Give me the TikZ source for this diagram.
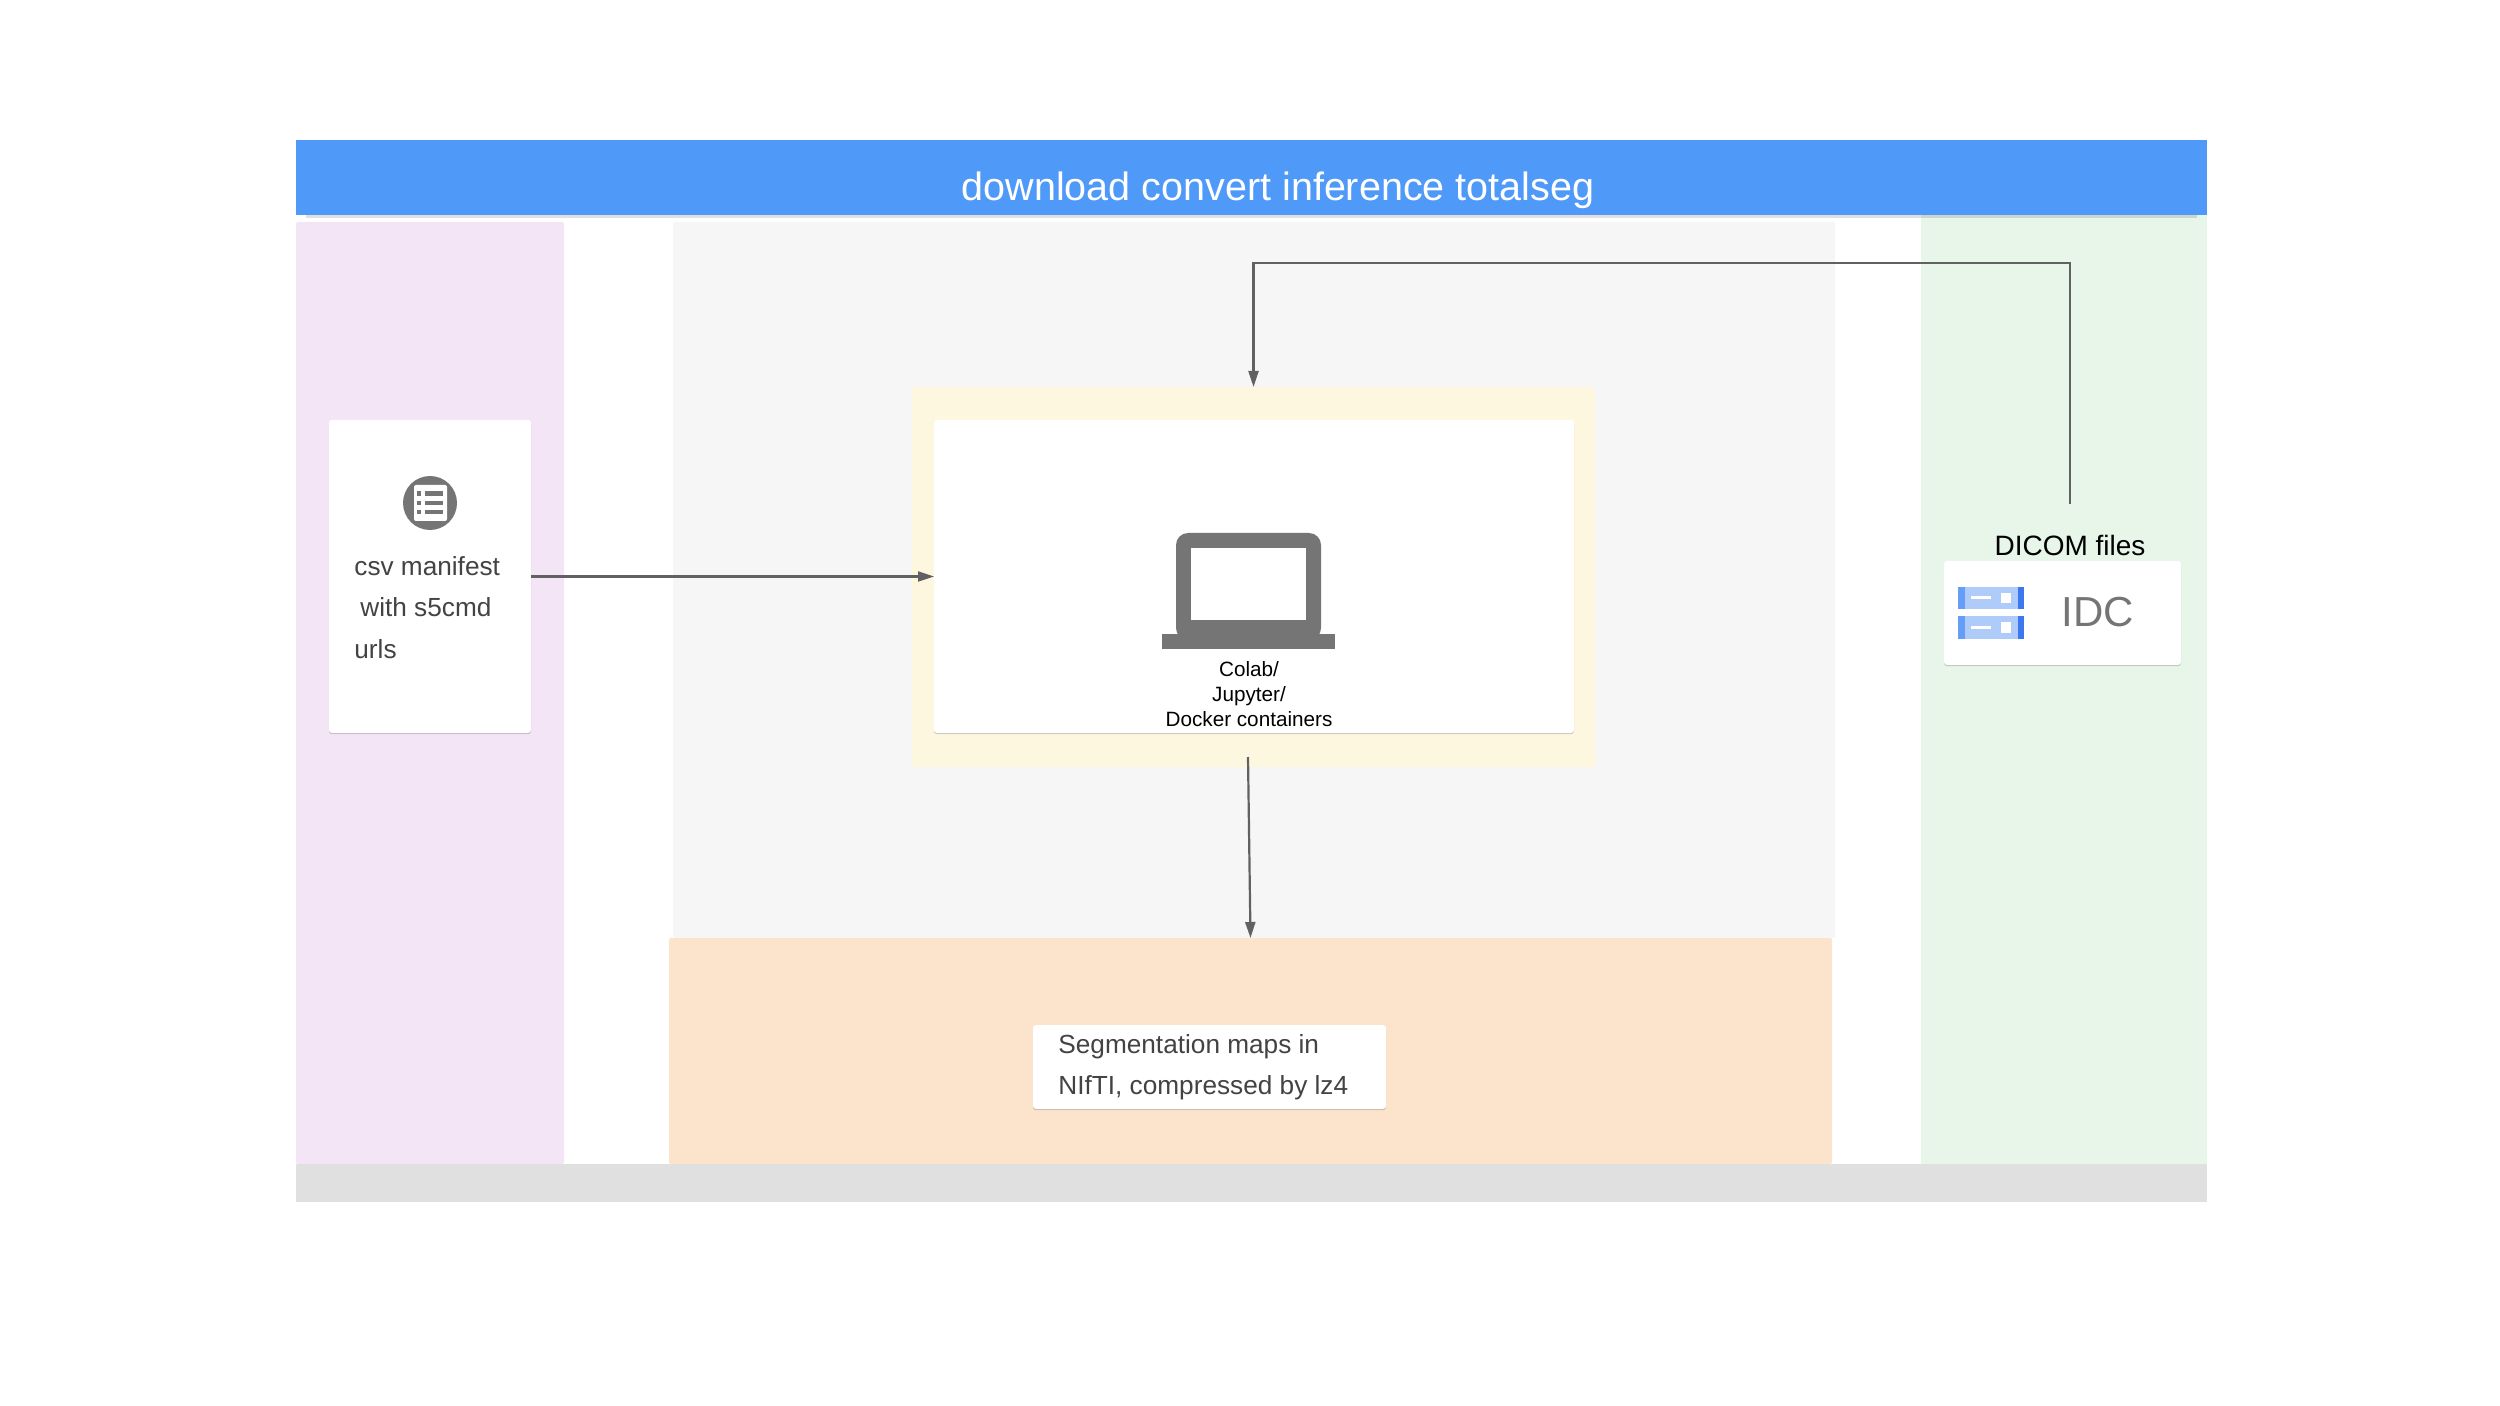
\documentclass[tikz,border=0pt]{standalone}
\usepackage{fontspec}
\setmainfont{Liberation Sans}
\usetikzlibrary{shadows,arrows.meta}
\definecolor{barblue}{HTML}{4F9AF8}
\definecolor{lanepurple}{HTML}{F3E5F5}
\definecolor{lanegray}{HTML}{F6F6F6}
\definecolor{lanegreen}{HTML}{E8F5E9}
\definecolor{laneyellow}{HTML}{FEF7E0}
\definecolor{laneorange}{HTML}{FCE4CC}
\definecolor{stripgray}{HTML}{E0E0E0}
\definecolor{linegray}{HTML}{616161}
\definecolor{icongray}{HTML}{757575}
\definecolor{textgray}{HTML}{434343}
\definecolor{srvlight}{HTML}{AECBFA}
\definecolor{srvmid}{HTML}{669DF6}
\definecolor{srvdark}{HTML}{3B78F0}
\tikzset{
  x=0.5pt,y=-0.5pt,
  area/.style={inner sep=0pt,outer sep=0pt,draw=none},
  card/.style={area,fill=white,rounded corners=1.5pt,
    drop shadow={shadow xshift=0pt,shadow yshift=-0.6pt,opacity=.2,fill=black}},
  barshadow/.style={area,fill=barblue,
    drop shadow={shadow xshift=0pt,shadow yshift=-1.6pt,shadow scale=.99,opacity=.12,fill=black}},
  link/.style={draw=linegray,line width=1.1pt,line join=miter},
  arr/.style={link,-{Triangle[length=8pt,width=5pt,fill=linegray]}},
  bodytext/.style={inner sep=0pt,text=textgray,align=left,font=\fontsize{13.1}{20.7}\selectfont},
  blacktext/.style={inner sep=0pt,text=black,align=center},
}
\newcommand{\rectnode}[6]{%
  \node[#2,minimum width={(#5-#3)*0.5pt},minimum height={(#6-#4)*0.5pt}]
    (#1) at ({(#3+#5)/2},{(#4+#6)/2}) {};}
\begin{document}
\begin{tikzpicture}
\useasboundingbox[fill=white] (0,0) rectangle (2500,1406);
% lanes
\rectnode{purplelane}{area,fill=lanepurple,rounded corners=1pt}{296}{222}{564}{1164}
\rectnode{graylane}{area,fill=lanegray,rounded corners=1pt}{673}{222}{1835}{938}
\rectnode{greenlane}{area,fill=lanegreen}{1921}{215}{2207}{1164}
\rectnode{yellowlane}{area,fill=laneyellow,rounded corners=1pt}{912}{387}{1595}{767}
\rectnode{orangelane}{area,fill=laneorange,rounded corners=1pt}{669}{938}{1832}{1164}
\rectnode{strip}{area,fill=stripgray}{296}{1164}{2207}{1202}
\rectnode{titlebar}{barshadow}{296}{140}{2207}{215}
\node[inner sep=0pt,text=white,font=\fontsize{19.75}{24}\selectfont,anchor=base] (title) at (1278,201) {download convert inference totalseg};
% cards
\rectnode{manifest}{card}{329}{420}{531}{733}
\rectnode{colab}{card}{934}{420}{1574}{733}
\rectnode{idc}{card}{1944}{561}{2181}{665}
\rectnode{seg}{card}{1033}{1025}{1386}{1109}
% list icon
\fill[icongray] (430,503) circle [radius=27];
\fill[white,rounded corners=1pt] (414,485) rectangle (447,521);
\foreach \yy in {493.5,503,512}{
  \fill[icongray] (417,\yy-2.2) rectangle (421,\yy+2.2);
  \fill[icongray] (425,\yy-2.2) rectangle (443,\yy+2.2);
}
\node[bodytext,anchor=base west] (csvl1) at (354,575) {csv manifest};
\node[bodytext,anchor=base west] (csvl2) at (360,617) {with s5cmd};
\node[bodytext,anchor=base west] (csvl3) at (354,658) {urls};
% laptop icon
\fill[icongray,rounded corners=6pt] (1176,533) rectangle (1321,640);
\fill[white] (1191,548) rectangle (1306,620);
\fill[icongray] (1162,634) rectangle (1335,649);
\node[blacktext,anchor=base,font=\fontsize{10.35}{12.5}\selectfont] (colabl1) at (1249,676) {Colab/};
\node[blacktext,anchor=base,font=\fontsize{10.35}{12.5}\selectfont] (colabl2) at (1249,701) {Jupyter/};
\node[blacktext,anchor=base,font=\fontsize{10.35}{12.5}\selectfont] (colabl3) at (1249,726) {Docker containers};
% server icon
\foreach \ya/\yb in {587/609,616/639}{
  \fill[srvlight] (1958,\ya) rectangle (2024,\yb);
  \fill[srvmid] (1958,\ya) rectangle (1964.5,\yb);
  \fill[srvdark] (2017.5,\ya) rectangle (2024,\yb);
  \fill[white] (1971,{(\ya+\yb)/2-1.5}) rectangle (1991,{(\ya+\yb)/2+1.5});
  \fill[white] (2001,{(\ya+\yb)/2-5}) rectangle (2011,{(\ya+\yb)/2+5});
}
\node[inner sep=0pt,text=icongray,font=\fontsize{21}{25}\selectfont,anchor=base west] (idclabel) at (2061,626) {IDC};
\node[blacktext,anchor=base,font=\fontsize{14}{17}\selectfont] (dicom) at (2070,556) {DICOM files};
% segmentation text
\node[bodytext,anchor=base west] (segl1) at (1058,1053) {Segmentation maps in};
\node[bodytext,anchor=base west] (segl2) at (1058,1094) {NIfTI, compressed by lz4};
% connectors
\coordinate (idcout) at (2070,504);
\coordinate (bend) at (2070,263);
\coordinate (colabout) at (1248,757);
\draw[arr] (manifest.east) -- (colab.west);
\draw[arr] (idcout) -- (bend) -- (bend -| yellowlane.north) -- (yellowlane.north);
\draw[arr] (colabout) -- (orangelane.north);
\end{tikzpicture}
\end{document}
